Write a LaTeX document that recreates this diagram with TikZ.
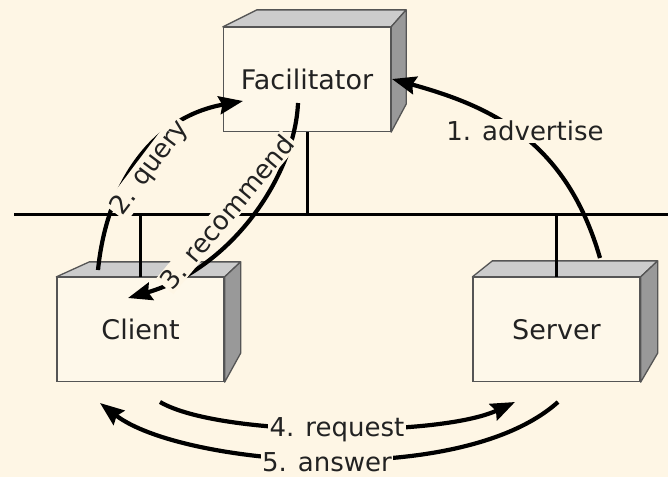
\documentclass[tikz,border=0pt]{standalone}
\usepackage{fontspec}
\setmainfont{DejaVu Sans}
\usetikzlibrary{arrows.meta,calc}
\definecolor{bg}{HTML}{FEF6E5}
\definecolor{face}{HTML}{FEF8EA}
\definecolor{topface}{HTML}{CCCCCC}
\definecolor{sideface}{HTML}{999999}
\definecolor{edge}{HTML}{555555}
\definecolor{ink}{HTML}{222222}
\begin{document}
\begin{tikzpicture}[x=1pt,y=-1pt,
  box/.style={draw=edge,line width=1.3pt,fill=face,minimum width=167pt,
    minimum height=104pt,inner sep=0pt,font=\fontsize{27}{32}\selectfont,text=ink},
  facet/.style={draw=edge,line width=1.3pt,line join=round},
  lan/.style={line width=3pt,black},
  flow/.style={line width=4.2pt,-{Stealth[length=24pt,width=18pt,inset=3pt]}},
  lbl/.style={fill=bg,inner sep=1.5pt,font=\fontsize{26}{31}\selectfont,text=ink},
]
\useasboundingbox (0,0) rectangle (668,477);
\fill[bg] (0,0) rectangle (668,477);

% hosts: front faces
\node[box] (fac) at (307,79.5) {Facilitator};
\node[box] (cli) at (140.5,329.5) {Client};
\node[box] (srv) at (556.5,329.5) {Server};

% top and side faces
\filldraw[facet,fill=topface] (fac.north west) -- ($(fac.north west)+(34,-17)$)
  -- ($(fac.north east)+(15,-17)$) -- (fac.north east) -- cycle;
\filldraw[facet,fill=sideface] (fac.north east) -- ($(fac.north east)+(15,-17)$)
  -- ($(fac.south east)+(15,-28)$) -- (fac.south east) -- cycle;
\filldraw[facet,fill=topface] (cli.north west) -- ($(cli.north west)+(33,-15)$)
  -- ($(cli.north east)+(16,-15)$) -- (cli.north east) -- cycle;
\filldraw[facet,fill=sideface] (cli.north east) -- ($(cli.north east)+(16,-15)$)
  -- ($(cli.south east)+(16,-29)$) -- (cli.south east) -- cycle;
\filldraw[facet,fill=topface] (srv.north west) -- ($(srv.north west)+(20,-16)$)
  -- ($(srv.north east)+(17,-16)$) -- (srv.north east) -- cycle;
\filldraw[facet,fill=sideface] (srv.north east) -- ($(srv.north east)+(17,-16)$)
  -- ($(srv.south east)+(17,-29)$) -- (srv.south east) -- cycle;

% network bus and drops
\coordinate (busL) at (14,214);
\coordinate (busR) at (668,214);
\draw[lan] (busL) -- (busR);
\draw[lan] (fac.south) -- (fac.south |- busL);
\draw[lan] (cli.north |- busL) -- (cli.north);
\draw[lan] (srv.north |- busL) -- (srv.north);

% message flows
\coordinate (advA) at (600,258);
\coordinate (advB) at (392,79);
\coordinate (qryA) at (98,270);
\coordinate (qryB) at (243,101);
\coordinate (recA) at (298,103);
\coordinate (recB) at (128,298);
\coordinate (reqA) at (160,402);
\coordinate (reqB) at (515,402);
\coordinate (ansA) at (558,402);
\coordinate (ansB) at (100,403);

\draw[flow] (advA) .. controls (566,140) and (490,106) .. (advB);
\draw[flow] (qryA) .. controls (107,181) and (154,117) .. (qryB);
\draw[flow] (recA) .. controls (295,175) and (232,268) .. (recB);
\draw[flow] (reqA) .. controls (220,437) and (440,437) .. (reqB);
\draw[flow] (ansA) .. controls (460,490) and (180,465) .. (ansB);

% flow labels
\node[lbl] (advL) at (525,131) {1. advertise};
\node[lbl,rotate=53] (qryL) at (150,168) {2. query};
\node[lbl,rotate=50] (recL) at (227,212) {3. recommend};
\node[lbl] (reqL) at (337,430) {4. request};
\node[lbl] (ansL) at (327,462) {5. answer};
\end{tikzpicture}
\end{document}
